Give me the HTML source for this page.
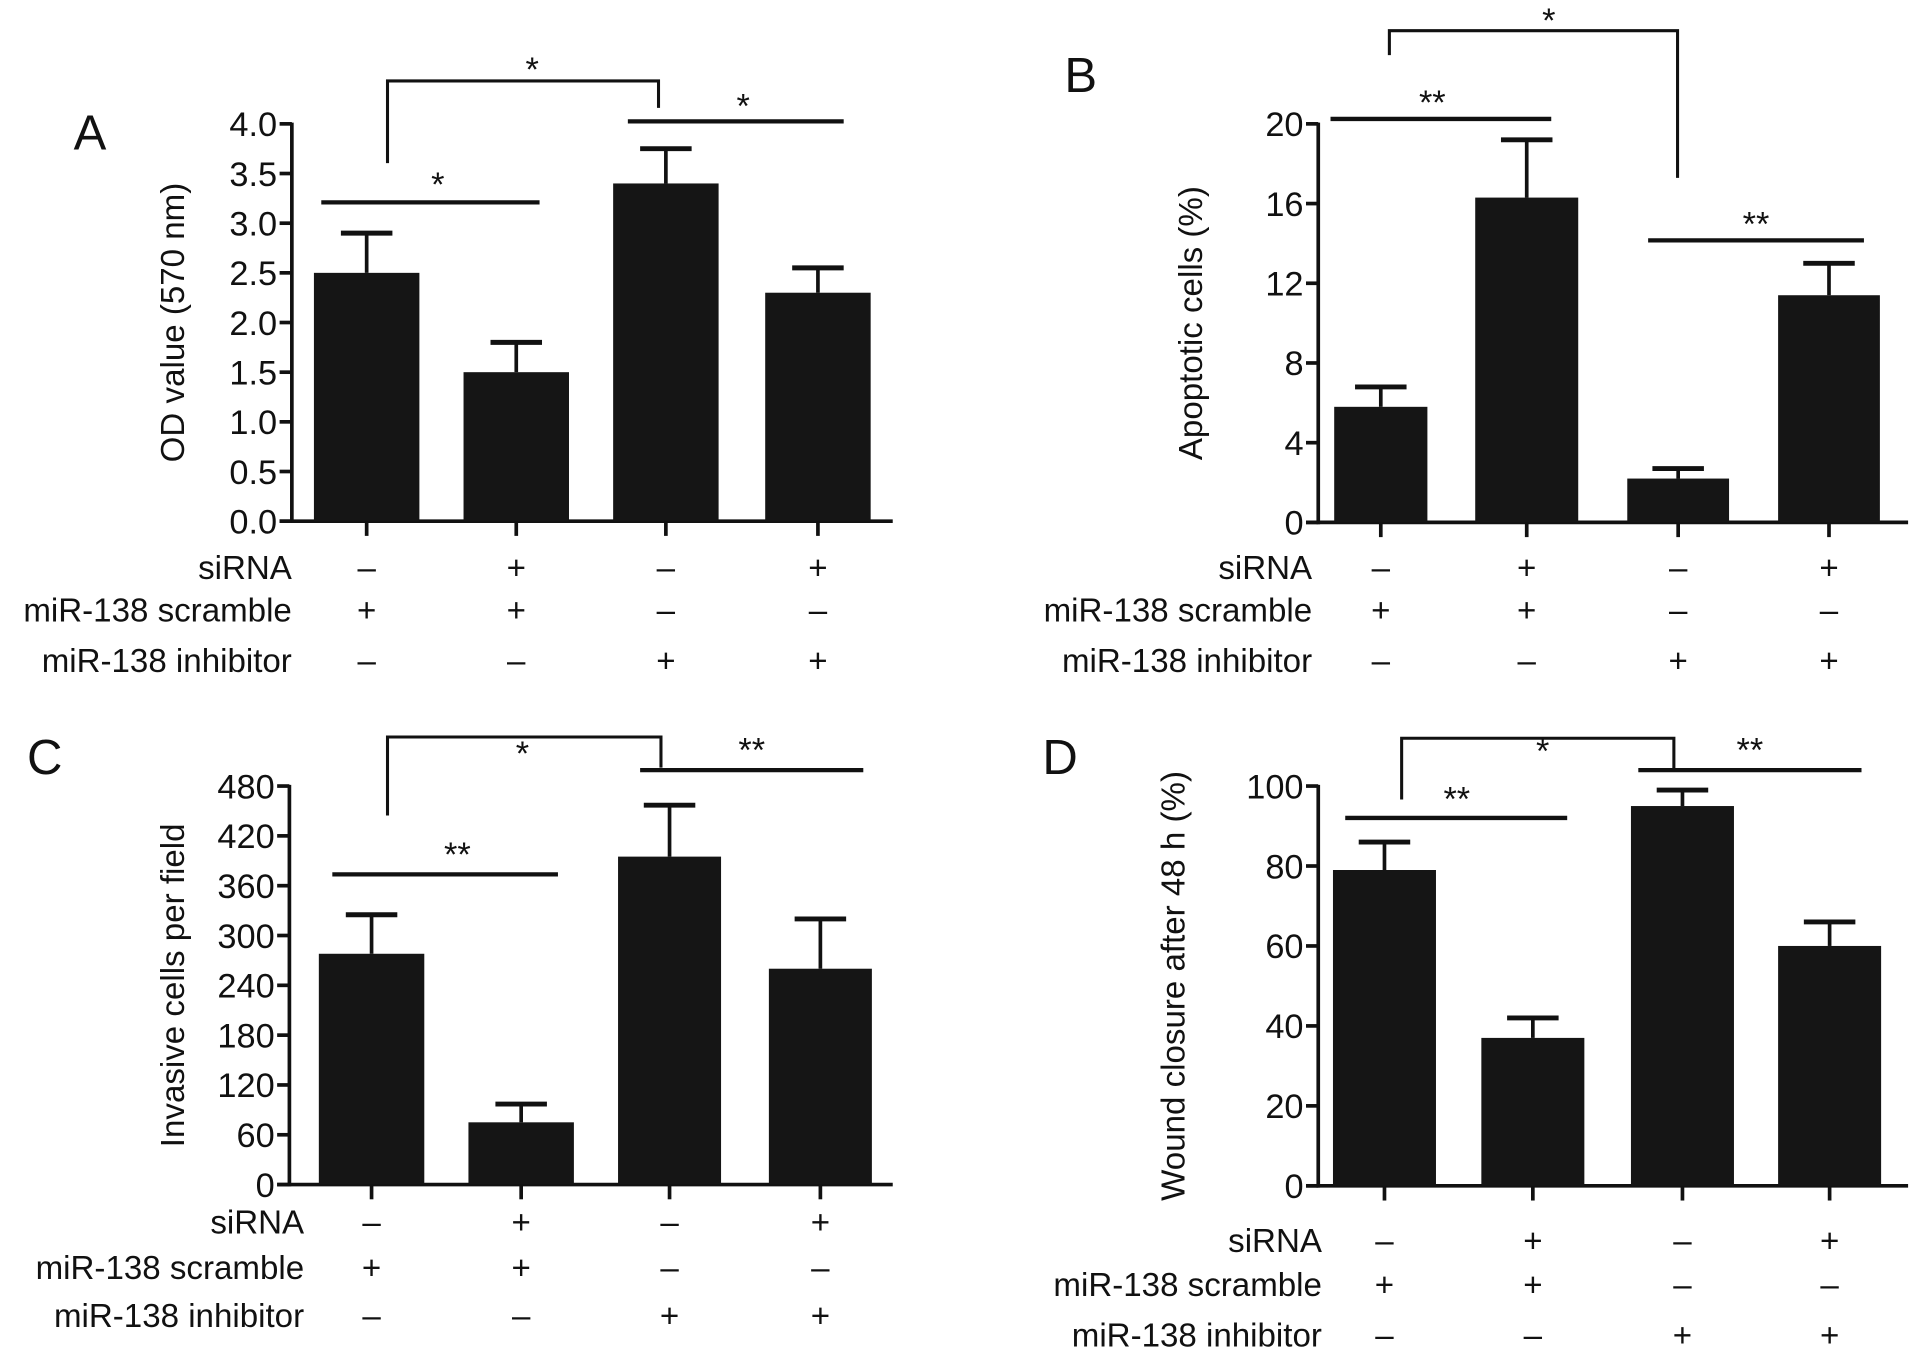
<!DOCTYPE html>
<html><head><meta charset="utf-8">
<style>
html,body{margin:0;padding:0;background:#fff;}
svg{display:block;}
text{font-family:"Liberation Sans",Arial,sans-serif;fill:#111;}
</style></head>
<body>
<svg id="fig" width="1913" height="1351" viewBox="0 0 1560 1101.7" xmlns="http://www.w3.org/2000/svg"></svg>
<script>
// ---- data ----
const aValues = [2.5, 1.5, 3.4, 2.3];
const aErrors = [0.4, 0.3, 0.35, 0.25];
const aTicks = ["0.0","0.5","1.0","1.5","2.0","2.5","3.0","3.5","4.0"];
const bValues = [5.8, 16.3, 2.2, 11.4];
const bErrors = [1.0, 2.9, 0.5, 1.6];
const bTicks = ["0","4","8","12","16","20"];
const cValues = [278, 75, 395, 260];
const cErrors = [47, 22, 62, 60];
const cTicks = ["0","60","120","180","240","300","360","420","480"];
const dValues = [79, 37, 95, 60];
const dErrors = [7, 5, 4, 6];
const dTicks = ["0","20","40","60","80","100"];
const siRNA = ["\u2013","+","\u2013","+"];
const scramble = ["+","+","\u2013","\u2013"];
const inhibitor = ["\u2013","\u2013","+","+"];

const NS = "http://www.w3.org/2000/svg";
const svg = document.getElementById('fig');
function mk(tag, attrs, parent){
  const e = document.createElementNS(NS, tag);
  for (const k in attrs) e.setAttribute(k, attrs[k]);
  (parent||svg).appendChild(e);
  return e;
}
function line(g,x1,y1,x2,y2,w){ return mk('line',{x1,y1,x2,y2,stroke:'#111','stroke-width':w||3},g); }

const panels = [
 {key:'a', letter:'A', lx:60, ly:122, values:aValues, errors:aErrors, ticks:aTicks, max:4,
  ax:238, y0:425, yTop:101, xEnd:728, bars:[[256,342],[378,464],[500,586],[624,710]],
  rowY:[463,498,539], labelX:238, titleX:150, title:'OD value (570 nm)',
  bracket:{x1:316,y1:133,x2:537,y2:88,top:66,star:'*',sx:434,sy:66},
  lines:[{x1:262,x2:440,y:165,star:'*',sx:357,sy:166},{x1:512,x2:688,y:99,star:'*',sx:606,sy:102}]},
 {key:'b', letter:'B', lx:868, ly:75, values:bValues, errors:bErrors, ticks:bTicks, max:20,
  ax:1075, y0:426, yTop:101, xEnd:1556, bars:[[1088,1164],[1203,1287],[1327,1410],[1450,1533]],
  rowY:[463,498,539], labelX:1070, titleX:980, title:'Apoptotic cells (%)',
  bracket:{x1:1133,y1:45,x2:1368,y2:145,top:25,star:'*',sx:1263,sy:26},
  lines:[{x1:1085,x2:1265,y:97,star:'**',sx:1168,sy:99},{x1:1344,x2:1520,y:196,star:'**',sx:1432,sy:198}]},
 {key:'c', letter:'C', lx:22, ly:631, values:cValues, errors:cErrors, ticks:cTicks, max:480,
  ax:236, y0:966, yTop:641, xEnd:728, bars:[[260,346],[382,468],[504,588],[627,711]],
  rowY:[997,1034,1073], labelX:248, titleX:150, title:'Invasive cells per field',
  bracket:{x1:316,y1:665,x2:539,y2:626,top:601,star:'*',sx:426,sy:624},
  lines:[{x1:271,x2:455,y:713,star:'**',sx:373,sy:712},{x1:522,x2:704,y:628,star:'**',sx:613,sy:627}]},
 {key:'d', letter:'D', lx:850, ly:631, values:dValues, errors:dErrors, ticks:dTicks, max:100,
  ax:1075, y0:967, yTop:641, xEnd:1556, bars:[[1087,1171],[1208,1292],[1330,1414],[1450,1534]],
  rowY:[1012,1048,1089], labelX:1078, titleX:966, title:'Wound closure after 48 h (%)',
  bracket:{x1:1143,y1:652,x2:1365,y2:627,top:602,star:'*',sx:1258,sy:622},
  lines:[{x1:1097,x2:1278,y:667,star:'**',sx:1188,sy:667},{x1:1336,x2:1518,y:628,star:'**',sx:1427,sy:627}]}
];
const rowNames = ['siRNA','miR-138 scramble','miR-138 inhibitor'];
const rowData = [siRNA, scramble, inhibitor];

panels.forEach(p=>{
  const g = mk('g',{});
  
  
  const yScale = v => p.y0 - (v/p.max)*(p.y0-p.yTop);
  const L = mk('text',{x:p.lx,y:p.ly,'font-size':40},g); L.textContent=p.letter;
  
  
  const ya = line(g,p.ax,p.yTop-1,p.ax,p.y0+1.5,3);
  
  
  const xa = line(g,p.ax-10,p.y0,p.xEnd,p.y0,3);
  
  
  p.ticks.forEach((t,i)=>{
    const v = parseFloat(t);
    const y = yScale(v);
    line(g,p.ax-10,y,p.ax,y,3);
    const tx = mk('text',{x:p.ax-12,y:y+10,'font-size':28,'text-anchor':'end'},g);
    tx.textContent = t;
    
    
  });
  const cy = (p.yTop+p.y0)/2;
  const tt = mk('text',{x:p.titleX,y:cy,'font-size':27,'text-anchor':'middle',transform:`rotate(-90 ${p.titleX} ${cy})`},g);
  tt.textContent = p.title;
  
  
  p.values.forEach((v,i)=>{
    const [x1,x2] = p.bars[i];
    const cx = (x1+x2)/2;
    const yv = yScale(v), ye = yScale(v+p.errors[i]);
    const r = mk('rect',{x:x1,y:yv,width:x2-x1,height:p.y0-yv,fill:'#151515'},g);
    
    
    const e = line(g,cx,yv,cx,ye,3);
    
    
    line(g,cx-21,ye,cx+21,ye,4);
    line(g,cx,p.y0,cx,p.y0+12,3);
    rowData.forEach((arr,ri)=>{
      const s = mk('text',{x:cx,y:p.rowY[ri]+9,'font-size':27,'text-anchor':'middle'},g);
      s.textContent = arr[i];
      
      
    });
  });
  rowNames.forEach((n,ri)=>{
    const t = mk('text',{x:p.labelX,y:p.rowY[ri]+9,'font-size':27,'text-anchor':'end'},g);
    t.textContent = n;
    
    
  });
  const b = p.bracket;
  const bp = mk('polyline',{points:`${b.x1},${b.y1} ${b.x1},${b.top} ${b.x2},${b.top} ${b.x2},${b.y2}`,fill:'none',stroke:'#111','stroke-width':2.5},g);
  
  
  const bs = mk('text',{x:b.sx,y:b.sy,'font-size':28,'text-anchor':'middle'},g);
  bs.textContent = b.star;
  
  
  p.lines.forEach(l=>{
    const ln = line(g,l.x1,l.y,l.x2,l.y,3.5);
    
    
    const st = mk('text',{x:l.sx,y:l.sy-6,'font-size':28,'text-anchor':'middle'},g);
    st.textContent = l.star;
    
    
  });
});
</script>
</body></html>
